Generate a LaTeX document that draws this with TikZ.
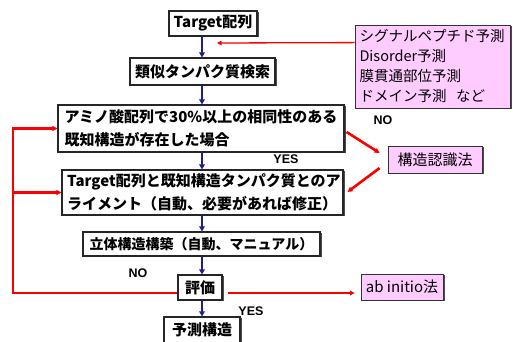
\documentclass[tikz,border=0pt]{standalone}
\usepackage{fontspec}
\setmainfont{Noto Sans CJK JP}
\newfontfamily\labfont{Liberation Sans}
\usetikzlibrary{arrows.meta,shadows,calc}
\definecolor{navy}{RGB}{30,30,140}
\definecolor{pinkfill}{RGB}{255,204,255}
\definecolor{redline}{RGB}{250,0,0}
\begin{document}
\begin{tikzpicture}[x=1pt,y=1pt,
  flowbox/.style={draw=black!85, line width=1.1pt, fill=white, inner sep=0pt,
    font=\bfseries\fontsize{15}{23}\selectfont,
    drop shadow={shadow xshift=1.5pt,shadow yshift=-1.5pt,fill=black!70,opacity=1}},
  pinkbox/.style={draw=black!80, line width=0.8pt, fill=pinkfill, inner sep=0pt,
    font=\fontsize{15}{20}\selectfont,
    drop shadow={shadow xshift=1.5pt,shadow yshift=-1.5pt,fill=black!70,opacity=1}},
  bluearrow/.style={draw=navy, line width=2pt, -{Triangle[length=5pt,width=5.5pt]}},
  redthin/.style={draw=redline, line width=1.3pt, -{Triangle[length=4.5pt,width=4.5pt]}},
  redthick/.style={draw=redline, line width=2.6pt, line join=miter, -{Triangle[length=5pt,width=5pt]}},
  lab/.style={font=\labfont\bfseries\fontsize{12.5}{14}\selectfont, inner sep=0pt}
]
\fill[white] (0,0) rectangle (513,342);
\useasboundingbox (0,0) rectangle (513,342);

% main flow boxes
\node[flowbox, minimum width=88, minimum height=25] (t1) at (213,318.5) {Target配列};
\node[flowbox, minimum width=145, minimum height=27] (t2) at (202.5,270.5) {類似タンパク質検索};
\node[flowbox, minimum width=286, minimum height=47, text width=273, align=left] (t3) at (201,213.5)
  {アミノ酸配列で30\%以上の相同性のある\\既知構造が存在した場合};
\node[flowbox, minimum width=281, minimum height=45, text width=271, align=left] (t4) at (202.5,149.5)
  {Target配列と既知構造タンパク質とのア\\ライメント（自動、必要があれば修正）};
\node[flowbox, minimum width=237, minimum height=24, font=\bfseries\fontsize{14}{18}\selectfont] (t5) at (201.5,98)
  {立体構造構築（自動、マニュアル）};
\node[flowbox, minimum width=44, minimum height=25] (t6) at (200,54.5) {評価};
\node[flowbox, minimum width=76, minimum height=26] (t7) at (202,12) {予測構造};

% pink boxes
\node[pinkbox, minimum width=155, minimum height=83, text width=146, align=left, font=\fontsize{14.5}{20}\selectfont] (p1) at (432.5,275.5)
  {シグナルペプチド予測\\Disorder予測\\膜貫通部位予測\\ドメイン予測\ \ など};
\node[pinkbox, minimum width=94, minimum height=27] (p2) at (435,182.5) {構造認識法};
\node[pinkbox, minimum width=82, minimum height=26] (p3) at (402,55) {ab initio法};

% labels
\node[lab] (no1) at (383,222) {NO};
\node[lab] (yes1) at (286,183) {YES};
\node[lab] (no2) at (138,69) {NO};
\node[lab] (yes2) at (251,31) {YES};

% blue flow arrows
\coordinate (ax) at (202,0);
\draw[bluearrow] (t1.south -| ax) -- (t2.north -| ax);
\draw[bluearrow] (t2.south -| ax) -- (t3.north -| ax);
\draw[bluearrow] (t3.south -| ax) -- (t4.north -| ax);
\draw[bluearrow] (t4.south -| ax) -- (t5.north -| ax);
\draw[bluearrow] (t5.south -| ax) -- (t6.north -| ax);
\draw[bluearrow] (t6.south -| ax) -- (t7.north -| ax);

% red connectors
\coordinate (r1) at (217,299);
\draw[redthin] ($(p1.north west)+(0,-18)$) -- (r1);
\draw[redthick] ($(t3.east)+(2,-3.5)$) -- ($(p2.west)+(-8,6.5)$);
\draw[redthick] ($(p2.west)+(-8,-8.5)$) -- ($(t4.east)+(4,0.5)$);
\coordinate (lx) at (13,0);
\draw[redthick] ($(t6.west)+(0,-5.5)$) -| (lx |- t3.west) -- (t3.west);
\draw[redthick] (lx |- t4.west) -- (t4.west);
\draw[redthin] ($(t6.east)+(5,-5.5)$) -- ($(p3.west)+(-6,-6)$);
\end{tikzpicture}
\end{document}
